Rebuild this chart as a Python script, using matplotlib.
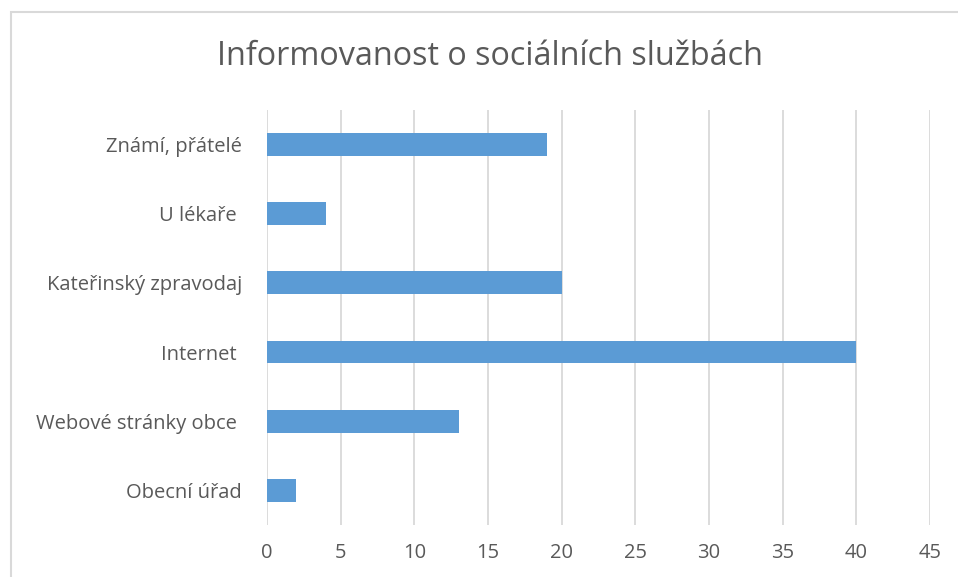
import matplotlib.pyplot as plt
from matplotlib.patches import Rectangle

categories = ["Obecní úřad", "Webové stránky obce ", "Internet ", "Kateřinský zpravodaj",
              "U lékaře ", "Známí, přátelé"]
values = [2, 13, 40, 20, 4, 19]
xticks = [0, 5, 10, 15, 20, 25, 30, 35, 40, 45]

plt.rcParams['font.family'] = ['Open Sans', 'DejaVu Sans']
text_color = "#595959"

fig = plt.figure(figsize=(9.58, 5.77), dpi=100)
ax = fig.add_axes([0.2787, 0.0901, 0.6921, 0.7193])

ax.barh(range(len(categories)), values, height=0.33, color="#5B9BD5", zorder=3)
ax.set_ylim(-0.5, len(categories) - 0.5)
ax.set_xlim(0, 45)
ax.set_xticks(xticks)
ax.set_yticks(range(len(categories)))
ax.set_yticklabels(categories)

ax.grid(axis="x", color="#D9D9D9", linewidth=1.3, zorder=0)
for s in ax.spines.values():
    s.set_visible(False)
ax.tick_params(axis="both", length=0, labelsize=14.5, labelcolor=text_color)
ax.tick_params(axis="x", pad=13)
ax.tick_params(axis="y", pad=18)

fig.text(0.511, 0.902, "Informovanost o sociálních službách", ha="center", va="center",
         fontsize=23.3, color=text_color)

# chart frame (cropped at right and bottom)
fig.patches.append(Rectangle((11 / 958, -0.1), 1.2, 1.1 - 12 / 577, transform=fig.transFigure,
                             fill=False, edgecolor="#D9D9D9", linewidth=1.5))

plt.savefig("out.png", dpi=100)
